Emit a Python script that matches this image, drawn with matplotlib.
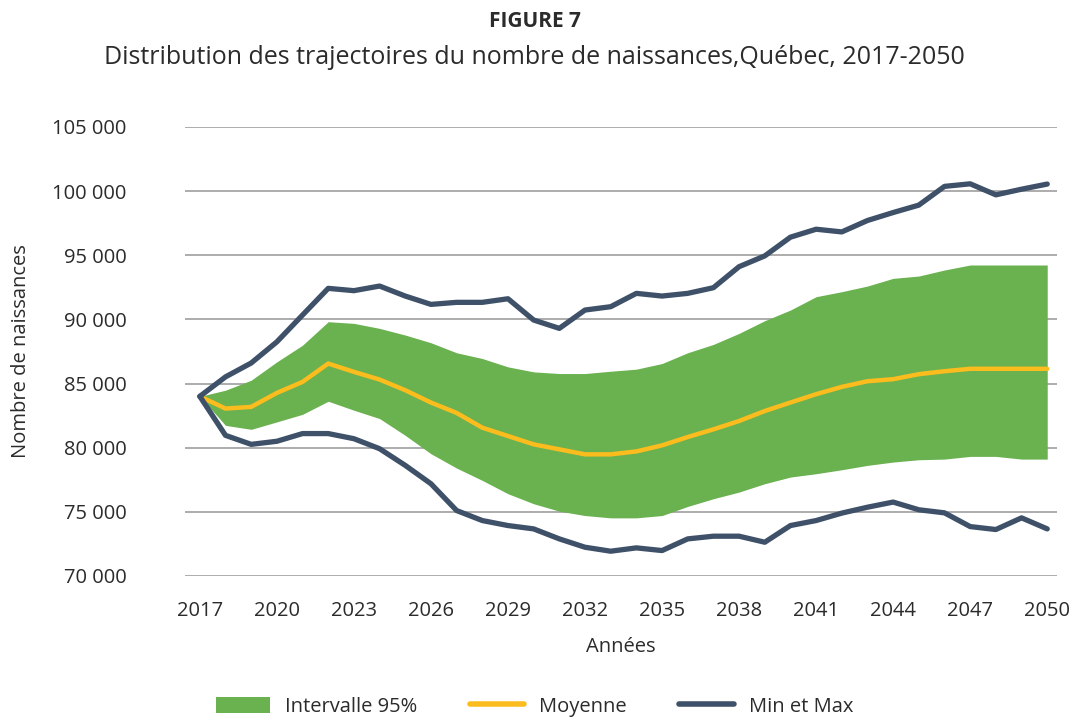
import numpy as np
import matplotlib
matplotlib.use('Agg')
import matplotlib.pyplot as plt
from matplotlib.patches import Patch
from matplotlib.lines import Line2D

plt.rcParams['font.family'] = ['Open Sans', 'DejaVu Sans']

years = list(range(2017, 2051))

moyenne = [84000, 83050, 83180, 84270, 85130, 86560, 85910, 85310, 84480, 83520,
           82710, 81560, 80910, 80260, 79870, 79480, 79480, 79710, 80180, 80830,
           81430, 82080, 82860, 83520, 84170, 84740, 85180, 85340, 85730, 85960,
           86150, 86150, 86150, 86150]

borne_sup = [84000, 84480, 85260, 86690, 87990, 89820, 89690, 89300, 88780, 88180,
             87400, 86950, 86300, 85910, 85780, 85780, 85960, 86120, 86560, 87400,
             88050, 88910, 89900, 90730, 91770, 92160, 92600, 93200, 93380, 93850,
             94240, 94240, 94240, 94240]

borne_inf = [84000, 81740, 81430, 82010, 82600, 83620, 82920, 82270, 80960, 79530,
             78410, 77450, 76410, 75630, 75050, 74710, 74530, 74530, 74710, 75420,
             76020, 76540, 77190, 77710, 77970, 78280, 78620, 78880, 79060, 79110,
             79320, 79320, 79110, 79110]

maximum = [84000, 85520, 86600, 88250, 90340, 92420, 92240, 92600, 91820, 91170,
           91330, 91330, 91610, 89950, 89300, 90730, 90990, 92030, 91820, 92030,
           92470, 94110, 94950, 96410, 97030, 96820, 97710, 98330, 98910, 100370,
           100570, 99710, 100150, 100550]

minimum = [84000, 80960, 80260, 80500, 81100, 81100, 80700, 79920, 78620, 77190,
           75100, 74320, 73930, 73670, 72890, 72240, 71930, 72190, 71980, 72890,
           73100, 73100, 72630, 73930, 74320, 74900, 75360, 75760, 75160, 74920,
           73850, 73620, 74530, 73670]

vert = '#6ab150'
jaune = '#fbbc1e'
bleu = '#3e5169'
texte = '#2b2b2b'

fig = plt.figure(figsize=(10.69, 7.17), dpi=100)
ax = fig.add_axes([0.173, 0.1967, 0.816, 0.6262])

ax.fill_between(years, borne_inf, borne_sup, color=vert, linewidth=0, zorder=2)
ax.plot(years, moyenne, color=jaune, linewidth=3.2, solid_capstyle='round', zorder=3)
ax.plot(years, maximum, color=bleu, linewidth=3.8, solid_capstyle='round', zorder=3)
ax.plot(years, minimum, color=bleu, linewidth=3.8, solid_capstyle='round', zorder=3)

ax.set_ylim(70000, 105000)
ax.set_xlim(2016.42, 2050.39)
ax.set_yticks(range(70000, 105001, 5000))
ax.set_yticklabels([f'{v:,}'.replace(',', ' ') for v in range(70000, 105001, 5000)])
ax.set_xticks(years[::3])
ax.grid(axis='y', color='#a6a6a6', linewidth=1.3, zorder=1)
ax.set_axisbelow(True)
for s in ax.spines.values():
    s.set_visible(False)
ax.tick_params(length=0, labelsize=14.5, colors=texte)
ax.tick_params(axis='x', pad=18)
ax.tick_params(axis='y', pad=42)

ax.set_xlabel('Années', fontsize=14.5, color=texte)
ax.xaxis.set_label_coords(0.5, -0.135)
ax.set_ylabel('Nombre de naissances', fontsize=14.5, color=texte)
ax.yaxis.set_label_coords(-0.177, 0.5)

fig.text(0.5, 0.985, 'FIGURE 7', ha='center', va='top', fontsize=15,
         fontweight='bold', color=texte)
fig.text(0.5, 0.937, 'Distribution des trajectoires du nombre de naissances,Québec, 2017-2050',
         ha='center', va='top', fontsize=18, color=texte)

handles = [Patch(facecolor=vert, edgecolor='none'),
           Line2D([0], [0], color=jaune, linewidth=4, solid_capstyle='round'),
           Line2D([0], [0], color=bleu, linewidth=4, solid_capstyle='round')]
fig.legend(handles, ['Intervalle 95%', 'Moyenne', 'Min et Max'],
           loc='lower center', bbox_to_anchor=(0.5, -0.025), ncol=3, frameon=False,
           fontsize=14.5, handlelength=2.7, handleheight=0.8, columnspacing=2.6,
           handletextpad=0.75, labelcolor=texte)

fig.savefig('out.png', dpi=100)
